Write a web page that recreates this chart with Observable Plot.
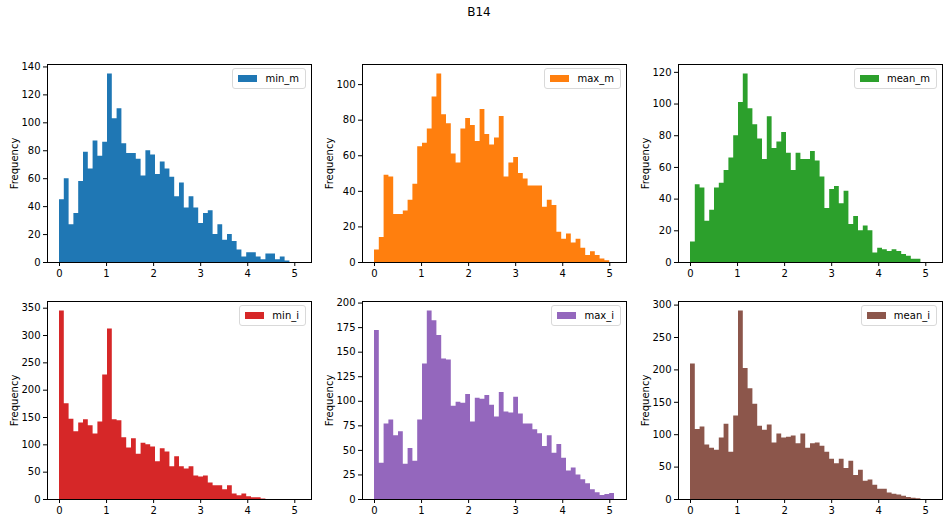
<!DOCTYPE html>
<html>
<head>
<meta charset="utf-8">
<script src="https://cdn.jsdelivr.net/npm/d3@7"></script>
<script src="https://cdn.jsdelivr.net/npm/@observablehq/plot@0.6"></script>
<style>
  html, body { margin: 0; padding: 0; background: #fff; }
  #fig { position: relative; width: 947px; height: 523px; font-family: "DejaVu Sans", sans-serif; }
  #title { position: absolute; left: 0; width: 958px; top: 5px; text-align: center; font-size: 12px; color: #000; }
  .panel { position: absolute; }
  .legend { position: absolute; border: 1px solid #d9d9d9; border-radius: 3px; background: rgba(255,255,255,0.8);
            font-size: 10px; color: #000; padding: 4px 6px 4px 5px; display: flex; align-items: center; white-space: nowrap; }
  .legend .sw { width: 19px; height: 7px; margin-right: 8px; }
</style>
</head>
<body>
<div id="fig"><div id="title">B14</div></div>
<script>
// Shared bin layout (50 bins over 0 .. 5.1)
const binCount = 50;
const binStart = 0;
const binWidth = 0.102;

// Series names
const seriesNames = ["min_m", "max_m", "mean_m", "min_i", "max_i", "mean_i"];
const seriesColors = ["#1f77b4", "#ff7f0e", "#2ca02c", "#d62728", "#9467bd", "#8c564b"];

// Counts per bin
const min_m = [45, 60, 27, 35, 58, 79, 67, 87, 76, 86, 135, 103, 110, 85, 78, 78, 74, 62, 80, 77,
  63, 72, 67, 61, 47, 57, 39, 47, 39, 28, 35, 37, 20, 27, 16, 20, 15, 9, 4, 7,
  7, 4, 2, 6, 6, 2, 4, 1, 0, 0];
const max_m = [7, 14, 49, 48, 27, 27, 29, 35, 44, 65, 67, 75, 93, 106, 83, 78, 61, 56, 75, 81,
  77, 68, 86, 72, 66, 70, 82, 48, 56, 59, 50, 47, 43, 43, 43, 31, 35, 32, 17, 13,
  16, 11, 13, 8, 4, 6, 4, 2, 1, 0];
const mean_m = [13, 49, 47, 26, 33, 47, 50, 58, 66, 80, 101, 119, 97, 87, 78, 65, 92, 72, 76, 82,
  69, 58, 69, 65, 65, 70, 64, 54, 34, 46, 48, 37, 45, 24, 29, 20, 23, 20, 6, 9,
  8, 7, 8, 7, 5, 4, 2, 2, 0, 0];
const min_i = [345, 175, 147, 124, 140, 146, 135, 120, 142, 228, 312, 146, 144, 113, 94, 111, 83, 103, 100, 96,
  69, 93, 87, 60, 78, 60, 56, 60, 43, 41, 43, 30, 25, 25, 18, 25, 10, 7, 10, 5,
  3, 3, 1, 0, 0, 0, 0, 0, 0, 0];
const max_i = [172, 37, 77, 81, 65, 69, 36, 52, 39, 81, 138, 192, 182, 167, 143, 142, 95, 99, 98, 107,
  79, 103, 102, 106, 96, 84, 109, 89, 88, 104, 87, 77, 77, 71, 67, 54, 65, 47, 56, 42,
  29, 32, 25, 20, 16, 10, 7, 4, 5, 6];
const mean_i = [209, 108, 112, 84, 79, 76, 95, 116, 73, 129, 291, 202, 171, 147, 113, 107, 115, 87, 101, 95,
  96, 98, 86, 101, 79, 86, 87, 82, 73, 62, 55, 62, 48, 59, 37, 45, 28, 30, 22, 16,
  16, 10, 8, 7, 5, 3, 2, 1, 0, 0];

// Y tick values per panel
const yTicks = [
  d3.range(0, 141, 20),
  d3.range(0, 101, 20),
  d3.range(0, 121, 20),
  d3.range(0, 351, 50),
  d3.range(0, 201, 25),
  d3.range(0, 301, 50)
];
const xTicks = [0, 1, 2, 3, 4, 5];

const allSeries = [min_m, max_m, mean_m, min_i, max_i, mean_i];

// Layout
const frameW = 264, frameH = 198;
const frameLefts = [47, 362, 678];
const frameTops = [64, 301];
const mL = 47, mR = 5, mT = 8, mB = 26;
const xDomainMin = binStart - 0.05 * binCount * binWidth;
const xDomainMax = binStart + binCount * binWidth + 0.05 * binCount * binWidth;

const fig = document.getElementById("fig");

allSeries.forEach((counts, k) => {
  const col = k % 3, row = Math.floor(k / 3);
  // step outline: one point per bin's left edge, plus closing right edge
  const steps = counts.map((c, i) => ({ x: binStart + i * binWidth, y: c }));
  steps.push({ x: binStart + counts.length * binWidth, y: counts[counts.length - 1] });
  const ymax = d3.max(counts) * 1.05;
  const color = seriesColors[k];
  const chart = Plot.plot({
    width: frameW + mL + mR,
    height: frameH + mT + mB,
    marginLeft: mL, marginRight: mR, marginTop: mT, marginBottom: mB,
    style: { fontFamily: "DejaVu Sans, sans-serif", fontSize: "10px", color: "#000", background: "transparent", overflow: "visible" },
    x: { domain: [xDomainMin, xDomainMax], ticks: xTicks, tickFormat: d => String(d), label: null },
    y: { domain: [0, ymax], ticks: yTicks[k], tickFormat: d => String(d), label: null },
    marks: [
      Plot.areaY(steps, { x: "x", y: "y", curve: "step-after", fill: color }),
      Plot.axisX({ ticks: xTicks, tickSize: 4, tickPadding: 3, fontSize: 10, label: null, tickFormat: d => String(d) }),
      Plot.axisY({ ticks: yTicks[k], tickSize: 4, tickPadding: 3, fontSize: 10, label: "Frequency", labelAnchor: "center", labelArrow: "none", labelOffset: 37, tickFormat: d => String(d) }),
      Plot.frame({ stroke: "#000", strokeWidth: 1 })
    ]
  });
  const wrap = document.createElement("div");
  wrap.className = "panel";
  wrap.style.left = (frameLefts[col] - mL) + "px";
  wrap.style.top = (frameTops[row] - mT) + "px";
  wrap.appendChild(chart);
  fig.appendChild(wrap);

  const lg = document.createElement("div");
  lg.className = "legend";
  const sw = document.createElement("div");
  sw.className = "sw";
  sw.style.background = color;
  const tx = document.createElement("span");
  tx.textContent = seriesNames[k];
  lg.appendChild(sw); lg.appendChild(tx);
  lg.style.right = (947 - (frameLefts[col] + frameW) + 5) + "px";
  lg.style.top = (frameTops[row] + 4) + "px";
  fig.appendChild(lg);
});
</script>
</body>
</html>
